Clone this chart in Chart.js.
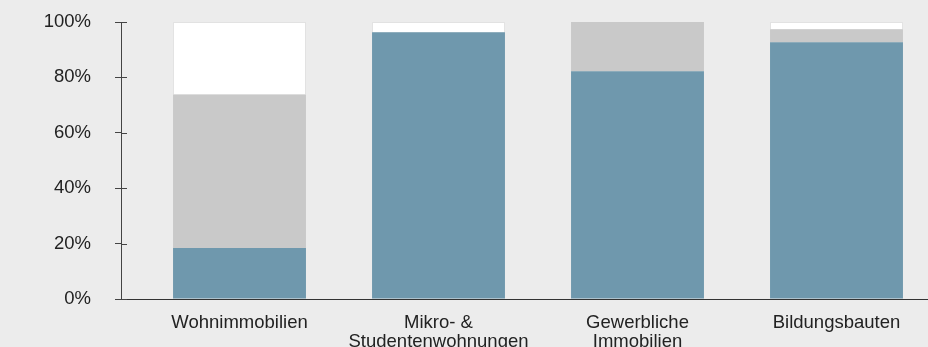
<!DOCTYPE html>
<html><head><meta charset="utf-8">
<script src="https://cdn.jsdelivr.net/npm/chart.js@4/dist/chart.umd.min.js"></script>
<style>html,body{margin:0;padding:0;background:#ececec;overflow:hidden}#wrap{width:928px;height:347px;position:relative}</style>
</head><body><div id="wrap"><canvas id="c"></canvas></div>
<script>
const categories = [["Wohnimmobilien"], ["Mikro- &", "Studentenwohnungen"], ["Gewerbliche", "Immobilien"], ["Bildungsbauten"]];
const blueValues = [18.4, 96.3, 82.2, 92.7];
const grayValues = [55.4, 0, 17.8, 4.7];
const whiteValues = [26.2, 3.7, 0, 2.6];
const yTickValues = [0, 20, 40, 60, 80, 100];

const FONT = 'Liberation Sans, Arial, Helvetica, sans-serif';
const toPts = arr => arr.map((v, i) => ({x: i, y: v}));

const innerTicks = {
  id: 'innerTicks',
  afterDraw(chart) {
    const y = chart.scales.y, ctx = chart.ctx;
    ctx.save();
    ctx.strokeStyle = '#444';
    ctx.lineWidth = 1;
    y.ticks.forEach(t => {
      const p = Math.round(y.getPixelForValue(t.value)) + 0.5;
      ctx.beginPath(); ctx.moveTo(y.right, p); ctx.lineTo(y.right + 6, p); ctx.stroke();
    });
    ctx.restore();
  }
};

new Chart(document.getElementById('c'), {
  type: 'bar',
  data: {
    datasets: [
      {data: toPts(blueValues), backgroundColor: '#6f98ad', borderWidth: 0},
      {data: toPts(grayValues), backgroundColor: '#c9c9c9', borderWidth: 0},
      {data: toPts(whiteValues), backgroundColor: '#ffffff', borderColor: '#e2e2e2', borderWidth: 1}
    ]
  },
  options: {
    responsive: true,
    maintainAspectRatio: false,
    animation: false,
    layout: {padding: {top: 22, left: 0, right: 0, bottom: 0}},
    datasets: {bar: {barPercentage: 1, categoryPercentage: 0.668}},
    plugins: {legend: {display: false}, tooltip: {enabled: false}},
    scales: {
      x: {
        type: 'linear',
        stacked: true,
        offset: false,
        min: -0.5955,
        max: 3.4598,
        afterBuildTicks: s => { s.ticks = categories.map((_, i) => ({value: i})); },
        afterFit: s => { s.height = 48; },
        grid: {display: false, drawTicks: false},
        border: {display: true, color: '#333', width: 1},
        ticks: {
          autoSkip: false, maxRotation: 0, padding: 14,
          color: '#222',
          font: {family: FONT, size: 18.5, lineHeight: 1.05},
          callback: v => categories[v]
        }
      },
      y: {
        stacked: true,
        min: 0, max: 100,
        afterBuildTicks: s => { s.ticks = yTickValues.map(v => ({value: v})); },
        afterFit: s => { s.width = 121; s.paddingTop = 11; s.paddingBottom = 11; },
        grid: {display: true, drawOnChartArea: false, drawTicks: true, tickLength: 6, color: '#444'},
        border: {display: true, color: '#444', width: 1},
        ticks: {
          padding: 24, color: '#222',
          font: {family: FONT, size: 18.5},
          callback: v => v + '%'
        }
      }
    }
  },
  plugins: [innerTicks]
});
</script></body></html>
